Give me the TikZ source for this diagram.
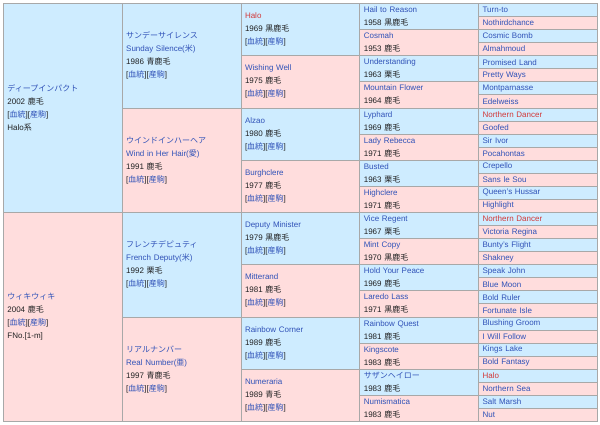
\documentclass[tikz,border=0pt]{standalone}
\usepackage{fontspec}
\setmainfont{Liberation Sans}
\newfontfamily\J{Noto Sans CJK JP}
\definecolor{bluebg}{RGB}{206,236,255}
\definecolor{pinkbg}{RGB}{255,221,221}
\definecolor{gridc}{RGB}{168,168,168}
\definecolor{lkc}{RGB}{48,82,184}
\definecolor{rlc}{RGB}{210,56,56}
\definecolor{txc}{RGB}{32,33,34}
\newcommand\lk[1]{\textcolor{lkc}{#1}}
\newcommand\rl[1]{\textcolor{rlc}{#1}}
\newcommand\jp[1]{{\J #1}}
\newcommand\bt{[\lk{\jp{血統}}][\lk{\jp{産駒}}]}
\tikzset{
  cellbox/.style={draw=gridc, line width=0.8pt, rectangle, anchor=north west,
    inner xsep=4pt, inner ysep=0pt, minimum width=118.8pt, text width=110.8pt,
    align=left, text=txc, font=\fontsize{8}{13}\selectfont},
  bl/.style={fill=bluebg}, pk/.style={fill=pinkbg}
}
\newcommand\cell[6]{\node[cellbox,#5,minimum height=#4*13.0625pt] (#1) at ({3+#2*118.8},{3+#3*13.0625}) {#6};}
\begin{document}
\begin{tikzpicture}[x=1pt,y=-1pt]
\useasboundingbox (0,0) rectangle (600,424);
\fill[white] (0,0) rectangle (600,424);
% column 0
\cell{c0a}{0}{0}{16}{bl}{\lk{\jp{ディープインパクト}}\\2002 \jp{鹿毛}\\\bt\\Halo\jp{系}}
\cell{c0b}{0}{16}{16}{pk}{\lk{\jp{ウィキウィキ}}\\2004 \jp{鹿毛}\\\bt\\FNo.[1-m]}
% column 1
\cell{c1a}{1}{0}{8}{bl}{\lk{\jp{サンデーサイレンス}}\\\lk{Sunday Silence(\jp{米})}\\1986 \jp{青鹿毛}\\\bt}
\cell{c1b}{1}{8}{8}{pk}{\lk{\jp{ウインドインハーヘア}}\\\lk{Wind in Her Hair(\jp{愛})}\\1991 \jp{鹿毛}\\\bt}
\cell{c1c}{1}{16}{8}{bl}{\lk{\jp{フレンチデピュティ}}\\\lk{French Deputy(\jp{米})}\\1992 \jp{栗毛}\\\bt}
\cell{c1d}{1}{24}{8}{pk}{\lk{\jp{リアルナンバー}}\\\lk{Real Number(\jp{亜})}\\1997 \jp{青鹿毛}\\\bt}
% column 2
\cell{c2a}{2}{0}{4}{bl}{\rl{Halo}\\1969 \jp{黒鹿毛}\\\bt}
\cell{c2b}{2}{4}{4}{pk}{\lk{Wishing Well}\\1975 \jp{鹿毛}\\\bt}
\cell{c2c}{2}{8}{4}{bl}{\lk{Alzao}\\1980 \jp{鹿毛}\\\bt}
\cell{c2d}{2}{12}{4}{pk}{\lk{Burghclere}\\1977 \jp{鹿毛}\\\bt}
\cell{c2e}{2}{16}{4}{bl}{\lk{Deputy Minister}\\1979 \jp{黒鹿毛}\\\bt}
\cell{c2f}{2}{20}{4}{pk}{\lk{Mitterand}\\1981 \jp{鹿毛}\\\bt}
\cell{c2g}{2}{24}{4}{bl}{\lk{Rainbow Corner}\\1989 \jp{鹿毛}\\\bt}
\cell{c2h}{2}{28}{4}{pk}{\lk{Numeraria}\\1989 \jp{青毛}\\\bt}
% column 3
\cell{c3a}{3}{0}{2}{bl}{\lk{Hail to Reason}\\1958 \jp{黒鹿毛}}
\cell{c3b}{3}{2}{2}{pk}{\lk{Cosmah}\\1953 \jp{鹿毛}}
\cell{c3c}{3}{4}{2}{bl}{\lk{Understanding}\\1963 \jp{栗毛}}
\cell{c3d}{3}{6}{2}{pk}{\lk{Mountain Flower}\\1964 \jp{鹿毛}}
\cell{c3e}{3}{8}{2}{bl}{\lk{Lyphard}\\1969 \jp{鹿毛}}
\cell{c3f}{3}{10}{2}{pk}{\lk{Lady Rebecca}\\1971 \jp{鹿毛}}
\cell{c3g}{3}{12}{2}{bl}{\lk{Busted}\\1963 \jp{栗毛}}
\cell{c3h}{3}{14}{2}{pk}{\lk{Highclere}\\1971 \jp{鹿毛}}
\cell{c3i}{3}{16}{2}{bl}{\lk{Vice Regent}\\1967 \jp{栗毛}}
\cell{c3j}{3}{18}{2}{pk}{\lk{Mint Copy}\\1970 \jp{黒鹿毛}}
\cell{c3k}{3}{20}{2}{bl}{\lk{Hold Your Peace}\\1969 \jp{鹿毛}}
\cell{c3l}{3}{22}{2}{pk}{\lk{Laredo Lass}\\1971 \jp{黒鹿毛}}
\cell{c3m}{3}{24}{2}{bl}{\lk{Rainbow Quest}\\1981 \jp{鹿毛}}
\cell{c3n}{3}{26}{2}{pk}{\lk{Kingscote}\\1983 \jp{鹿毛}}
\cell{c3o}{3}{28}{2}{bl}{\lk{\jp{サザンヘイロー}}\\1983 \jp{鹿毛}}
\cell{c3p}{3}{30}{2}{pk}{\lk{Numismatica}\\1983 \jp{鹿毛}}
% column 4
\cell{c4a}{4}{0}{1}{bl}{\lk{Turn-to}}
\cell{c4b}{4}{1}{1}{pk}{\lk{Nothirdchance}}
\cell{c4c}{4}{2}{1}{bl}{\lk{Cosmic Bomb}}
\cell{c4d}{4}{3}{1}{pk}{\lk{Almahmoud}}
\cell{c4e}{4}{4}{1}{bl}{\lk{Promised Land}}
\cell{c4f}{4}{5}{1}{pk}{\lk{Pretty Ways}}
\cell{c4g}{4}{6}{1}{bl}{\lk{Montparnasse}}
\cell{c4h}{4}{7}{1}{pk}{\lk{Edelweiss}}
\cell{c4i}{4}{8}{1}{bl}{\rl{Northern Dancer}}
\cell{c4j}{4}{9}{1}{pk}{\lk{Goofed}}
\cell{c4k}{4}{10}{1}{bl}{\lk{Sir Ivor}}
\cell{c4l}{4}{11}{1}{pk}{\lk{Pocahontas}}
\cell{c4m}{4}{12}{1}{bl}{\lk{Crepello}}
\cell{c4n}{4}{13}{1}{pk}{\lk{Sans le Sou}}
\cell{c4o}{4}{14}{1}{bl}{\lk{Queen's Hussar}}
\cell{c4p}{4}{15}{1}{pk}{\lk{Highlight}}
\cell{c4q}{4}{16}{1}{bl}{\rl{Northern Dancer}}
\cell{c4r}{4}{17}{1}{pk}{\lk{Victoria Regina}}
\cell{c4s}{4}{18}{1}{bl}{\lk{Bunty's Flight}}
\cell{c4t}{4}{19}{1}{pk}{\lk{Shakney}}
\cell{c4u}{4}{20}{1}{bl}{\lk{Speak John}}
\cell{c4v}{4}{21}{1}{pk}{\lk{Blue Moon}}
\cell{c4w}{4}{22}{1}{bl}{\lk{Bold Ruler}}
\cell{c4x}{4}{23}{1}{pk}{\lk{Fortunate Isle}}
\cell{c4y}{4}{24}{1}{bl}{\lk{Blushing Groom}}
\cell{c4z}{4}{25}{1}{pk}{\lk{I Will Follow}}
\cell{c4A}{4}{26}{1}{bl}{\lk{Kings Lake}}
\cell{c4B}{4}{27}{1}{pk}{\lk{Bold Fantasy}}
\cell{c4C}{4}{28}{1}{bl}{\rl{Halo}}
\cell{c4D}{4}{29}{1}{pk}{\lk{Northern Sea}}
\cell{c4E}{4}{30}{1}{bl}{\lk{Salt Marsh}}
\cell{c4F}{4}{31}{1}{pk}{\lk{Nut}}
\end{tikzpicture}
\end{document}
